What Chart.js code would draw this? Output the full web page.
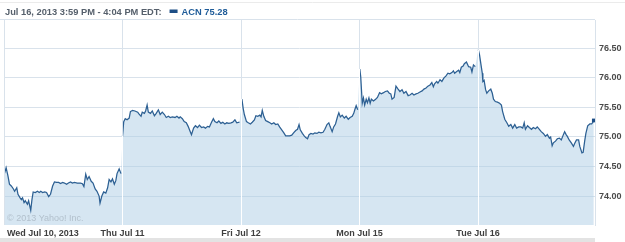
<!DOCTYPE html>
<html>
<head>
<meta charset="utf-8">
<script src="https://cdn.jsdelivr.net/npm/chart.js@4/dist/chart.umd.min.js"></script>
<style>
  html,body{margin:0;padding:0;background:#fff;}
  #wrap{position:relative;width:625px;height:242px;}
</style>
</head>
<body>
<div id="wrap"><canvas id="c" width="625" height="242"></canvas></div>
<script>
// ACN intraday, 5 sessions (minutes after 9:30 open, price)
const DAYS = ['Wed Jul 10, 2013','Thu Jul 11','Fri Jul 12','Mon Jul 15','Tue Jul 16'];
const SESSION = 390;
const X_MAX = 1945;
const Y_TICKS = [74.0,74.5,75.0,75.5,76.0,76.5];

const JUL10_MIN = [2,7,13,18,24,31,35,42,46,53,57,61,66,70,77,81,88,92,96,103,110,116,121,127,134,140,147,153,160,166,173,180,186,193,199,206,212,219,225,232,241,252,258,263,269,274,280,287,293,300,306,313,316,322,328,335,341,346,352,357,363,368,372,379,385];
const JUL10_PX = [74.39,74.48,74.34,74.20,74.17,74.12,74.08,74.14,74.03,73.97,73.94,73.97,73.89,73.92,73.86,73.92,73.76,73.94,74.07,74.06,74.08,74.06,74.08,74.06,74.07,74.06,73.99,74.03,74.17,74.24,74.23,74.23,74.21,74.23,74.22,74.20,74.22,74.24,74.22,74.23,74.22,74.22,74.21,74.16,74.37,74.28,74.33,74.25,74.22,74.12,74.08,74.00,73.88,74.00,74.07,74.05,74.14,74.28,74.24,74.29,74.20,74.26,74.38,74.46,74.38];

const JUL11_MIN = [0,4,9,15,22,26,33,41,50,54,61,65,72,76,81,85,92,98,105,111,118,124,131,138,144,151,157,164,173,179,186,190,197,203,210,216,223,227,234,240,247,253,260,267,273,280,286,293,299,304,311,317,324,330,337,343,350,357,363,370,376,385];
const JUL11_PX = [75.01,75.26,75.31,75.29,75.32,75.43,75.45,75.44,75.42,75.39,75.35,75.42,75.40,75.44,75.54,75.42,75.40,75.44,75.36,75.40,75.46,75.38,75.42,75.38,75.33,75.35,75.33,75.34,75.33,75.35,75.32,75.34,75.31,75.26,75.24,75.18,75.09,75.04,75.15,75.19,75.16,75.20,75.16,75.17,75.15,75.18,75.17,75.25,75.31,75.26,75.24,75.27,75.23,75.25,75.22,75.24,75.23,75.24,75.25,75.29,75.24,75.25];

const JUL12_MIN = [3,7,11,18,24,31,37,44,49,55,62,66,70,75,81,88,95,101,108,114,121,127,134,141,147,154,160,167,173,180,186,191,195,202,208,213,219,224,230,237,243,250,256,263,270,276,283,289,293,300,305,311,318,322,327,333,340,346,353,359,366,371,375,379,384];
const JUL12_PX = [75.64,75.49,75.38,75.26,75.24,75.22,75.25,75.29,75.36,75.35,75.37,75.34,75.45,75.35,75.28,75.26,75.24,75.22,75.24,75.21,75.22,75.17,75.12,75.07,75.02,75.02,75.02,75.03,75.07,75.11,75.13,75.21,75.12,75.06,75.02,74.99,74.97,75.04,75.06,75.05,75.07,75.06,75.08,75.07,75.08,75.13,75.21,75.24,75.18,75.09,75.17,75.22,75.35,75.41,75.34,75.37,75.32,75.35,75.30,75.33,75.35,75.40,75.47,75.53,75.46];

const JUL15_MIN = [1,4,9,13,17,22,26,31,35,39,46,53,59,66,72,79,85,92,98,103,107,114,120,127,133,140,146,153,160,166,173,179,186,192,199,206,212,219,225,232,238,243,247,254,258,265,271,278,284,291,297,304,309,313,320,326,330,335,341,345,352,359,366,370,375,381];
const JUL15_PX = [76.15,76.02,75.57,75.66,75.54,75.64,75.58,75.66,75.57,75.64,75.61,75.64,75.67,75.75,75.73,75.75,75.77,75.78,75.74,75.73,75.64,75.67,75.86,75.81,75.77,75.80,75.74,75.77,75.70,75.71,75.74,75.71,75.73,75.74,75.76,75.78,75.81,75.83,75.86,75.88,75.92,75.85,75.90,75.94,75.91,75.97,75.94,76.00,76.03,76.08,76.07,76.09,76.12,76.08,76.11,76.13,76.09,76.18,76.20,76.24,76.27,76.19,76.18,76.10,76.22,76.19];

const JUL16_MIN = [1,5,9,14,16,20,25,29,35,42,47,51,57,64,71,77,81,88,95,101,108,114,121,127,134,141,147,152,156,163,169,176,182,189,195,202,208,215,222,228,235,239,244,248,255,261,268,274,281,285,290,294,300,307,314,318,324,331,335,342,346,351,355,361,368,374,379,381];
const JUL16_PX = [76.48,76.39,76.25,76.08,75.94,75.96,75.80,75.74,75.78,75.81,75.74,75.64,75.60,75.59,75.57,75.54,75.43,75.30,75.24,75.18,75.21,75.15,75.21,75.15,75.17,75.17,75.15,75.24,75.13,75.19,75.16,75.13,75.16,75.14,75.17,75.13,75.09,75.06,75.01,75.04,74.98,75.00,74.85,74.90,74.93,74.97,74.98,74.95,75.04,75.09,75.04,75.01,74.95,74.90,74.84,74.89,74.95,74.95,74.84,74.73,74.74,74.93,75.06,75.19,75.22,75.22,75.26,75.28];

const DAY_MIN = [JUL10_MIN,JUL11_MIN,JUL12_MIN,JUL15_MIN,JUL16_MIN];
const DAY_PX = [JUL10_PX,JUL11_PX,JUL12_PX,JUL15_PX,JUL16_PX];

const LINE = '#2d6093';
const GRID = '#d9e2eb';
const FONT = '"Liberation Sans", Arial, sans-serif';

function dayPoints(d){
  return DAY_PX[d].map(function(v,i){ return {x: d*SESSION + DAY_MIN[d][i], y: v}; });
}

// one line per session, one continuous area under all of them
const datasets = DAY_PX.map(function(px,d){
  const last = d===DAY_PX.length-1;
  return {
    data: dayPoints(d), order: 0,
    borderColor: LINE, borderWidth: 1.25, fill: false, tension: 0,
    pointRadius: function(c){ return last && c.dataIndex===px.length-1 ? 2.6 : 0; },
    pointBackgroundColor: '#1d4e86', pointBorderWidth: 0, pointStyle: 'rect'
  };
});
datasets.push({
  data: DAY_PX.reduce(function(all,px,d){ return all.concat(dayPoints(d)); }, []),
  order: 10, borderWidth: 0, borderColor: 'rgba(0,0,0,0)',
  backgroundColor: 'rgba(173,205,229,0.5)', fill: 'start', pointRadius: 0, tension: 0
});

// day separators: grey above the area, white inside it
function dayGridColor(c){
  const ch=c.chart, area=ch.chartArea, ys=ch.scales.y;
  if(!area || !ys || !c.index) return GRID;
  const prev=DAY_PX[c.index-1], next=DAY_PX[c.index];
  if(!prev || !next) return GRID;
  const py=ys.getPixelForValue(Math.max(prev[prev.length-1], next[0]));
  const t=Math.min(1,Math.max(0,(py-area.top)/(area.bottom-area.top)));
  const g=ch.ctx.createLinearGradient(0,area.top,0,area.bottom);
  g.addColorStop(0,GRID); g.addColorStop(t,GRID);
  g.addColorStop(t,'#ffffff'); g.addColorStop(1,'#ffffff');
  return g;
}

const decor = {
  id:'decor',
  afterDatasetsDraw: function(ch){
    const a=ch.chartArea, ctx=ch.ctx;
    ctx.save();
    ctx.font='9px '+FONT; ctx.fillStyle='#b3c1cd';
    ctx.textBaseline='middle'; ctx.textAlign='left';
    ctx.fillText('\u00a9 2013 Yahoo! Inc.', a.left+3, a.bottom-6);
    ctx.restore();
  },
  afterDraw: function(ch){
    const a=ch.chartArea, ctx=ch.ctx, xs=ch.scales.x;
    ctx.save();
    // frame lines
    ctx.strokeStyle=GRID; ctx.lineWidth=1;
    ctx.beginPath(); ctx.moveTo(0,a.top-0.5); ctx.lineTo(a.right,a.top-0.5); ctx.stroke();
    ctx.strokeStyle='#ebebeb';
    ctx.beginPath(); ctx.moveTo(0,2.5); ctx.lineTo(ch.width,2.5); ctx.stroke();
    ctx.fillStyle='#e3e3e3'; ctx.fillRect(0,ch.height-4,a.right,4);
    // day labels
    ctx.font='bold 9px '+FONT; ctx.fillStyle='#3f3f3f'; ctx.textBaseline='middle';
    DAYS.forEach(function(lbl,i){
      const px=xs.getPixelForValue(i*SESSION);
      ctx.textAlign = i===0 ? 'left' : 'center';
      ctx.fillText(lbl, i===0 ? px+3 : px, a.bottom+8.5);
    });
    // header
    ctx.font='bold 9.3px '+FONT;
    ctx.textAlign='left';
    ctx.fillStyle='#56606c';
    const head='Jul 16, 2013 3:59 PM - 4:04 PM EDT:';
    ctx.fillText(head, 5, 12);
    const w=ctx.measureText(head).width;
    ctx.fillStyle='#1d4e86'; ctx.fillRect(5+w+8, 9.5, 8, 3.5);
    ctx.fillStyle='#1f5c99';
    ctx.fillText('ACN 75.28', 5+w+20, 12);
    ctx.restore();
  }
};

new Chart(document.getElementById('c'), {
  type:'line',
  data:{datasets:datasets},
  options:{
    responsive:false, animation:false, events:[],
    layout:{padding:{left:3, top:20, right:0, bottom:0}},
    plugins:{legend:{display:false}, tooltip:{enabled:false}},
    scales:{
      x:{
        type:'linear', min:0, max:X_MAX,
        afterBuildTicks:function(s){ s.ticks = DAYS.map(function(d,i){ return {value:i*SESSION}; }); },
        afterFit:function(s){ s.height=17; },
        ticks:{display:false},
        grid:{color:dayGridColor, lineWidth:1, drawTicks:false, z:1},
        border:{display:false}
      },
      y:{
        position:'right', min:73.51, max:76.98,
        afterBuildTicks:function(s){ s.ticks = Y_TICKS.map(function(v){ return {value:v}; }); },
        afterFit:function(s){ s.width=30; },
        ticks:{color:'#4a4a4a', font:{family:FONT, size:9, weight:'bold'}, padding:4,
               callback:function(v){ return Number(v).toFixed(2); }},
        grid:{color:GRID, lineWidth:1, drawTicks:false},
        border:{display:true, color:GRID}
      }
    }
  },
  plugins:[decor]
});
</script>
</body>
</html>
